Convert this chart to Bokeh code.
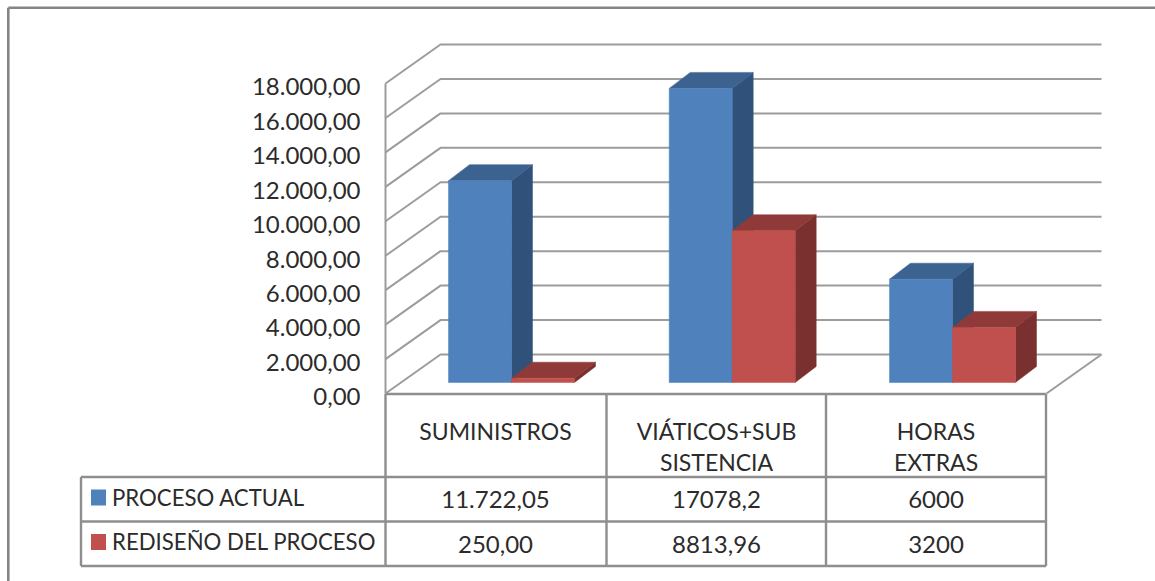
from bokeh.plotting import figure
from bokeh.models import Range1d, LinearAxis, FixedTicker, ColumnDataSource
from bokeh.core.properties import value
from bokeh.embed import file_html
from bokeh.resources import INLINE

# ---------- data ----------
series_names = ["PROCESO ACTUAL", "REDISEÑO DEL PROCESO"]
proceso_actual = [11722.05, 17078.2, 6000]
rediseno = [250.00, 8813.96, 3200]
proceso_labels = ["11.722,05", "17078,2", "6000"]
rediseno_labels = ["250,00", "8813,96", "3200"]
category_lines = [["SUMINISTROS"], ["VIÁTICOS+SUB", "SISTENCIA"], ["HORAS", "EXTRAS"]]
axis_ticks = [0, 2000, 4000, 6000, 8000, 10000, 12000, 14000, 16000, 18000]

# ---------- layout (pixels of the page) ----------
W, H = 1155, 581
FONT = "Lato"
FS_HEAD = "23px"
FS_KEY = "22.2px"
FS_NUM = "24px"
TEXT = "#2b2b2b"
GRID = "#9c9c9c"
TABLE = "#8e8e8e"
FRAME = "#858585"
BLUE = ("#4f81bd", "#3c6290", "#30527a")
RED = ("#c0504d", "#8f3a38", "#7a302e")

PX_PER_UNIT = 34.44 / 2000
ZERO_PX = 393.0


def dv(px):
    """Length in pixels, expressed in value units."""
    return px / PX_PER_UNIT


def row(px):
    """Page pixel row, expressed in value units."""
    return (ZERO_PX - px) / PX_PER_UNIT


WALL_X, BACK_X, END_X, FLOOR_RIGHT = 385.0, 440.0, 1101.0, 1046.0
DEPTH_Y = 39.0
COL_X = [385.0, 606.0, 825.5, 1045.5]
LEGEND_X = 80.5
ROW_Y = [row(393.5), row(476.5), row(521), row(565.5)]
BAR_LEFT = [448.0, 668.7, 889.0]
BAR_W = 63.0
BAR_DX, BAR_DY = 21.0, 16.0
BAR_BASE = dv(11)

p = figure(
    width=W, height=H, output_backend="svg", toolbar_location=None,
    x_range=Range1d(0, W),
    y_range=Range1d(row(H), row(0)),
    x_axis_location=None, y_axis_location=None,
    min_border=0, outline_line_color=None, background_fill_color="white",
    border_fill_color="white", margin=(0, 0, 0, 0),
)
p.xgrid.visible = False
p.ygrid.visible = False

# outer frame of the picture
p.multi_line([[7.8, 7.8], [7.8, W]], [[row(H), row(7.2)], [row(7.2), row(7.2)]],
             line_color=FRAME, line_width=2.6)

# walls: front wall + gridlines running back and along the rear wall
xs, ys = [], []
for t in axis_ticks:
    xs.append([WALL_X, BACK_X, END_X])
    ys.append([t, t + dv(DEPTH_Y), t + dv(DEPTH_Y)])
xs.append([WALL_X, WALL_X])
ys.append([0, axis_ticks[-1]])
xs.append([FLOOR_RIGHT, END_X])
ys.append([0, dv(DEPTH_Y)])
p.multi_line(xs, ys, line_color=GRID, line_width=2)


def bar(left, val, colors):
    base = BAR_BASE
    top = base + val
    r = left + BAR_W
    d = dv(BAR_DY)
    p.patch([r, r + BAR_DX, r + BAR_DX, r],
            [base, base + d, top + d, top], color=colors[2], line_width=0.5)
    p.patch([left, r, r + BAR_DX, left + BAR_DX],
            [top, top, top + d, top + d], color=colors[1], line_width=0.5)
    p.quad(left=left, right=r, bottom=base, top=top, color=colors[0], line_width=0.5)


for i, left in enumerate(BAR_LEFT):
    bar(left, proceso_actual[i], BLUE)
    bar(left + BAR_W, rediseno[i], RED)

# data table lines
tx, ty = [], []
for x in COL_X[1:]:
    tx.append([x, x]); ty.append([ROW_Y[0], ROW_Y[3]])
tx.append([COL_X[0], COL_X[0]]); ty.append([ROW_Y[0], ROW_Y[3]])
tx.append([LEGEND_X, LEGEND_X]); ty.append([ROW_Y[1], ROW_Y[3]])
tx.append([COL_X[0], COL_X[3]]); ty.append([ROW_Y[0], ROW_Y[0]])
for y in ROW_Y[1:]:
    tx.append([LEGEND_X, COL_X[3]]); ty.append([y, y])
p.multi_line(tx, ty, line_color=TABLE, line_width=2.4)

# legend keys inside the table
for name_i, (colors, yc) in enumerate(zip((BLUE, RED), (497.0, 541.5))):
    p.quad(left=90.5, right=105.5, bottom=row(yc + 8), top=row(yc - 8),
           color=colors[0], line_width=0)
    p.text([111.5], [row(yc - 0.5)], text=[series_names[name_i]], text_font=value(FONT),
           text_font_size=FS_KEY, text_color=TEXT, text_baseline="middle", text_align="left")

# table texts
centres = [495.0, 716.0, 935.5]
hx, hy, ht = [], [], []
for c, lines in zip(centres, category_lines):
    for j, line in enumerate(lines):
        hx.append(c); hy.append(row(430 + 31 * j)); ht.append(line)
p.text(x="x", y="y", text="t", source=ColumnDataSource(dict(x=hx, y=hy, t=ht)),
       text_font=value(FONT), text_font_size=FS_HEAD, text_color=TEXT,
       text_baseline="middle", text_align="center")
nx, ny, nt = [], [], []
for labels, yc in ((proceso_labels, 499.0), (rediseno_labels, 543.5)):
    for c, lab in zip(centres, labels):
        nx.append(c); ny.append(row(yc)); nt.append(lab)
p.text(x="x", y="y", text="t", source=ColumnDataSource(dict(x=nx, y=ny, t=nt)),
       text_font=value(FONT), text_font_size=FS_NUM, text_color=TEXT,
       text_baseline="middle", text_align="center")

# value axis: labels sit a little below the tick rows of the wall
LABEL_SHIFT = dv(3.3)
p.extra_y_ranges = {"labels": Range1d(row(H) + LABEL_SHIFT, row(0) + LABEL_SHIFT)}
axis = LinearAxis(
    y_range_name="labels", ticker=FixedTicker(ticks=axis_ticks),
    fixed_location=WALL_X, axis_line_color=None, major_tick_line_color=None,
    minor_tick_line_color=None, major_tick_out=0, major_tick_in=0,
    major_label_standoff=25,
    major_label_text_font=FONT, major_label_text_font_size=FS_NUM,
    major_label_text_color=TEXT,
    major_label_overrides={
        t: f"{t:,.2f}".replace(",", "#").replace(".", ",").replace("#", ".")
        for t in axis_ticks
    },
)
p.add_layout(axis, "left")

open("out.html", "w").write(file_html(p, INLINE))
